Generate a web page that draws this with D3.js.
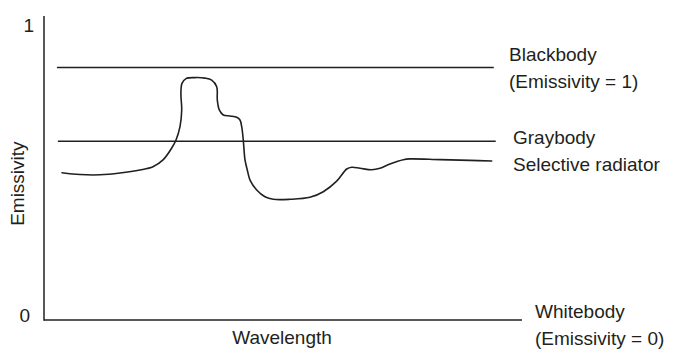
<!DOCTYPE html>
<html>
<head>
<meta charset="utf-8">
<script src="https://cdn.jsdelivr.net/npm/d3@7"></script>
<style>
  html, body { margin: 0; padding: 0; background: #fff; }
  svg { display: block; }
  text { font-family: "Liberation Sans", Arial, Helvetica, sans-serif; fill: #231f20; }
</style>
</head>
<body>
<svg id="chart" width="689" height="356"></svg>
<script>
// Schematic spectral emissivity of three idealised surfaces.
// Wavelength is in arbitrary units (0–100); emissivity is 0–1.

const axisEndLabels = ["0", "1"];
const xAxisTitle = "Wavelength";
const yAxisTitle = "Emissivity";

// Reference bodies: constant emissivity across the wavelength range
const constantBodies = ["Blackbody", "Graybody"];
const constantEmissivity = [1.0, 0.708];
const constantStart = [2.7, 2.9];
const constantEnd = [94.1, 94.5];

// Selective radiator: emissivity varies with wavelength
const selectiveWavelength = [
  3.77, 7.53, 11.72, 15.90, 20.08, 22.80, 24.90, 26.72, 27.62, 28.45, 28.81, 28.64,
  28.87, 29.71, 31.59, 33.68, 35.08, 36.13, 36.26, 36.67, 37.51, 38.91, 40.31, 41.00,
  41.36, 41.69, 42.05, 42.53, 43.10, 44.50, 46.23, 47.97, 51.46, 55.65, 58.43, 61.23,
  63.33, 64.37, 66.11, 68.56, 70.29, 72.38, 75.17, 76.57, 82.85, 89.12, 93.66
];
const selectiveEmissivity = [
  0.583, 0.576, 0.575, 0.582, 0.594, 0.607, 0.634, 0.681, 0.713, 0.766, 0.832, 0.899,
  0.937, 0.956, 0.960, 0.958, 0.950, 0.924, 0.871, 0.832, 0.812, 0.808, 0.803, 0.792,
  0.766, 0.713, 0.634, 0.594, 0.554, 0.515, 0.488, 0.478, 0.478, 0.486, 0.508, 0.550,
  0.598, 0.605, 0.601, 0.595, 0.601, 0.618, 0.635, 0.638, 0.635, 0.632, 0.630
];

const bodyLabels = [
  ["Blackbody", "(Emissivity = 1)"],
  ["Graybody"],
  ["Selective radiator"],
  ["Whitebody", "(Emissivity = 0)"]
];

const svg = d3.select("#chart");
const ink = "#231f20";
const fontSize = 19;

const x = d3.scaleLinear().domain([0, 100]).range([44, 522]);
const y = d3.scaleLinear().domain([0, 1]).range([320, 67.5]);
const axisTop = 16;

// Axes: plain lines without tick marks, labelled only at their ends
svg.append("line")
  .attr("x1", x(0)).attr("x2", x(0))
  .attr("y1", y(0) + 0.75).attr("y2", axisTop)
  .attr("stroke", ink).attr("stroke-width", 1.5);
svg.append("line")
  .attr("x1", x(0)).attr("x2", x(100))
  .attr("y1", y(0)).attr("y2", y(0))
  .attr("stroke", ink).attr("stroke-width", 1.5);

svg.append("text")
  .attr("x", x(0) - 14).attr("y", y(0) + 2)
  .attr("text-anchor", "end").attr("font-size", fontSize)
  .text(axisEndLabels[0]);
svg.append("text")
  .attr("x", x(0) - 10).attr("y", axisTop + 16)
  .attr("text-anchor", "end").attr("font-size", fontSize)
  .text(axisEndLabels[1]);

svg.append("text")
  .attr("x", (x(0) + x(100)) / 2 - 1).attr("y", 344)
  .attr("text-anchor", "middle").attr("font-size", fontSize)
  .text(xAxisTitle);
svg.append("text")
  .attr("transform", `translate(24, ${y(0.54)}) rotate(-90)`)
  .attr("text-anchor", "middle").attr("font-size", fontSize)
  .text(yAxisTitle);

// Constant-emissivity reference lines
constantBodies.forEach((name, i) => {
  svg.append("line")
    .attr("x1", x(constantStart[i])).attr("x2", x(constantEnd[i]))
    .attr("y1", y(constantEmissivity[i])).attr("y2", y(constantEmissivity[i]))
    .attr("stroke", ink).attr("stroke-width", 1.5);
});

// Selective radiator curve
const pts = selectiveWavelength.map((w, i) => [w, selectiveEmissivity[i]]);
svg.append("path")
  .datum(pts)
  .attr("fill", "none")
  .attr("stroke", ink)
  .attr("stroke-width", 1.6)
  .attr("stroke-linecap", "round")
  .attr("d", d3.line()
    .x(d => x(d[0]))
    .y(d => y(d[1]))
    .curve(d3.curveCatmullRom.alpha(0.5)));

// Right-hand labels
const labelPos = [
  { x: 509, y: 61 },
  { x: 513, y: 144 },
  { x: 513, y: 171 },
  { x: 535, y: 318 }
];
bodyLabels.forEach((lines, i) => {
  const t = svg.append("text")
    .attr("x", labelPos[i].x).attr("y", labelPos[i].y)
    .attr("font-size", fontSize);
  lines.forEach((s, j) => {
    t.append("tspan")
      .attr("x", labelPos[i].x)
      .attr("dy", j === 0 ? 0 : 27)
      .text(s);
  });
});
</script>
</body>
</html>
